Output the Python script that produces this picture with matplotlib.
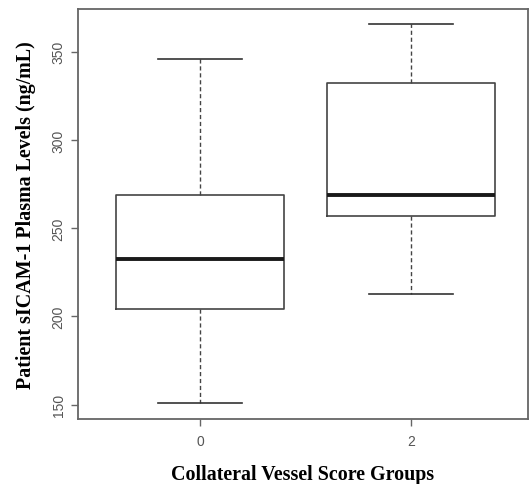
import matplotlib
matplotlib.use("Agg")
import matplotlib.pyplot as plt

groups = ["0", "2"]
whislo = [151, 213]
q1 = [204, 257]
med = [232.5, 269]
q3 = [268.7, 332]
whishi = [346, 365.5]
yticks = [150, 200, 250, 300, 350]

fig = plt.figure(figsize=(5.29, 4.85), dpi=100)
ax = fig.add_axes([78/529, 1-420/485, (528-78)/529, (420-10)/485])

stats = []
for i in range(len(groups)):
    stats.append(dict(label=groups[i], whislo=whislo[i], q1=q1[i], med=med[i],
                      q3=q3[i], whishi=whishi[i], fliers=[]))

ax.bxp(stats, positions=[1, 2], widths=0.8, capwidths=0.4, showfliers=False,
       boxprops=dict(color="#444444", linewidth=1.2),
       whiskerprops=dict(color="#444444", linewidth=1.0, linestyle=(0, (3, 2))),
       capprops=dict(color="#333333", linewidth=1.2),
       medianprops=dict(color="#1a1a1a", linewidth=2.8))

ax.set_xlim(0.422, 2.555)
ax.set_ylim(141.9, 374.2)
ax.set_yticks(yticks)
ax.set_yticklabels([str(t) for t in yticks], rotation=90, va="center",
                   family="Liberation Sans", fontsize=10, color="#555555")
ax.set_xticks([1, 2])
ax.set_xticklabels(groups, family="Liberation Sans", fontsize=10, color="#555555")
ax.tick_params(axis="both", length=5, width=1, color="#666666")
ax.tick_params(axis="y", pad=4)
ax.tick_params(axis="x", pad=6)
for s in ax.spines.values():
    s.set_color("#666666")
    s.set_linewidth(1.3)

ax.set_ylabel("Patient sICAM-1 Plasma Levels (ng/mL)", family="Liberation Serif",
              fontweight="bold", fontsize=14.4, labelpad=11)
ax.set_xlabel("Collateral Vessel Score Groups", family="Liberation Serif",
              fontweight="bold", fontsize=14.4, labelpad=11)

fig.savefig("out.png", dpi=100)
